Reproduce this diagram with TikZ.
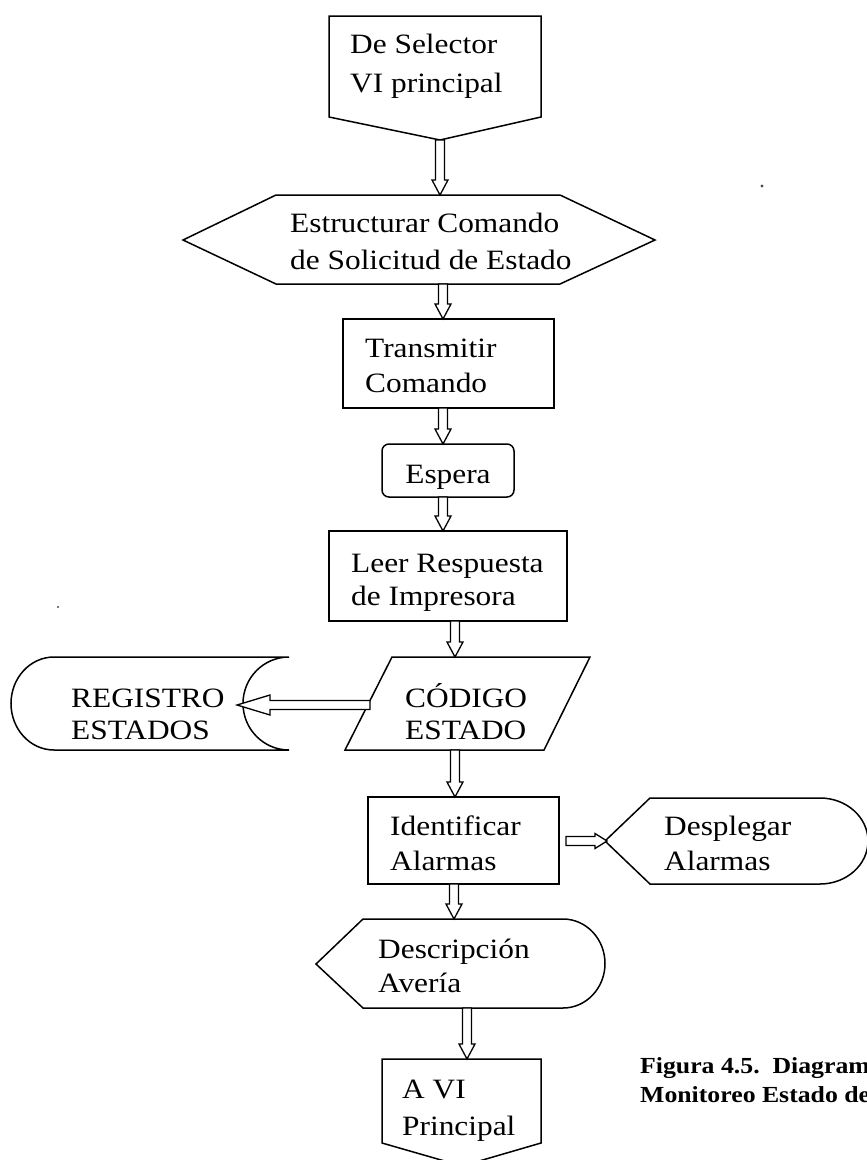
\documentclass[tikz,border=0pt]{standalone}
\usepackage{fontspec}
\setmainfont[FakeStretch=1.12]{Liberation Serif}
\usetikzlibrary{calc}

\tikzset{
  shapeline/.style={draw=black, line width=1.5pt, line join=miter},
  box/.style={shapeline, rectangle, inner sep=0pt},
  lbl/.style={anchor=base west, inner sep=0pt, font=\fontsize{28}{34}\selectfont},
  clbl/.style={anchor=base, inner sep=0pt, font=\fontsize{28}{34}\selectfont},
  captext/.style={anchor=base west, inner sep=0pt, font=\bfseries\fontsize{23}{28}\selectfont},
  conn/.style={draw=black, line width=1.3pt, fill=white, line join=miter},
}

% Outlined block arrow from tail #1 to tip #2:
% #3 half shaft width, #4 half head width, #5 head length
\newcommand\hollowarrow[5]{%
  \coordinate (ha-base) at ($(#2)!#5!(#1)$);
  \draw[conn] ($(#1)!#3!90:(#2)$) -- ($(ha-base)!#3!-90:(#1)$)
    -- ($(ha-base)!#4!-90:(#1)$) -- (#2) -- ($(ha-base)!#4!90:(#1)$)
    -- ($(ha-base)!#3!90:(#1)$) -- ($(#1)!#3!-90:(#2)$) -- cycle;}

\begin{document}
% y axis points down the page, so angles run clockwise on the page
\begin{tikzpicture}[x=1pt,y=-1pt]
\useasboundingbox (0,0) rectangle (867,1160);
\fill[white] (0,0) rectangle (867,1160);

% --- off-page entry
\draw[shapeline] (329,16) -- (541,16) -- (541,117) -- (440,140) -- (329,117) -- cycle;
\node[lbl] (sel1) at (350,53) {De Selector};
\node[lbl] (sel2) at (350,92) {VI principal};
\coordinate (sel-out) at (440,140);

% --- preparation hexagon
\draw[shapeline] (183,240) -- (276,195) -- (560,195) -- (655,240) -- (560,284) -- (276,284) -- cycle;
\node[lbl] (est1) at (290,232) {Estructurar Comando};
\node[lbl] (est2) at (290,269) {de Solicitud de Estado};
\coordinate (est-in) at (440,195);
\coordinate (est-out) at (443,284);

% --- transmit
\node[box, minimum width=211pt, minimum height=89pt] (tx) at (448.5,363.5) {};
\node[lbl] (tx1) at (365,357) {Transmitir};
\node[lbl] (tx2) at (365,392) {Comando};
\coordinate (tx-in) at (443,319);
\coordinate (tx-out) at (443,408);

% --- wait
\node[box, rounded corners=7pt, minimum width=132pt, minimum height=53pt] (wt) at (448,470.5) {};
\node[clbl] (wt1) at (448,483) {Espera};
\coordinate (wt-in) at (443,444);
\coordinate (wt-out) at (443,497);

% --- read reply
\node[box, minimum width=238pt, minimum height=90pt] (rd) at (448,576) {};
\node[lbl] (rd1) at (351,572) {Leer Respuesta};
\node[lbl] (rd2) at (351,605) {de Impresora};
\coordinate (rd-in) at (443,531);
\coordinate (rd-out) at (455,621);

% --- status code (data)
\draw[shapeline] (392,657) -- (590,657) -- (544,750) -- (345,750) -- cycle;
\node[lbl] (cd1) at (405,707) {CÓDIGO};
\node[lbl] (cd2) at (405,739) {ESTADO};
\coordinate (cd-in) at (455,657);
\coordinate (cd-left) at (370,705);
\coordinate (cd-out) at (455,750);

% --- stored data
\draw[shapeline] (289,657) -- (54,657) arc[start angle=270, end angle=90, x radius=43, y radius=46.5]
  -- (289,750) arc[start angle=90, end angle=270, x radius=46, y radius=46.5];
\node[lbl] (rg1) at (71,707) {REGISTRO};
\node[lbl] (rg2) at (71,739) {ESTADOS};
\coordinate (rg-in) at (237,705);

% --- identify alarms
\node[box, minimum width=191pt, minimum height=87pt] (id) at (463.5,840.5) {};
\node[lbl] (id1) at (390,835) {Identificar};
\node[lbl] (id2) at (390,870) {Alarmas};
\coordinate (id-in) at (455,797);
\coordinate (id-right) at (566,841);
\coordinate (id-out) at (454,884);

% --- display alarms
\draw[shapeline] (605,841) -- (650,798) -- (820,798) arc[start angle=-90, end angle=90, x radius=48, y radius=43]
  -- (650,884) -- cycle;
\node[lbl] (dp1) at (664,835) {Desplegar};
\node[lbl] (dp2) at (664,870) {Alarmas};
\coordinate (dp-in) at (607,841);

% --- display fault description
\draw[shapeline] (316,964) -- (363,919) -- (563,919) arc[start angle=-90, end angle=90, x radius=42, y radius=44.5]
  -- (363,1008) -- cycle;
\node[lbl] (ds1) at (378,958) {Descripción};
\node[lbl] (ds2) at (378,992) {Avería};
\coordinate (ds-in) at (454,919);
\coordinate (ds-out) at (467,1008);

% --- off-page exit
\draw[shapeline] (382,1059) -- (541,1059) -- (541,1143) -- (462,1166) -- (382,1143) -- cycle;
\node[lbl] (ex1) at (402,1098) {A VI};
\node[lbl] (ex2) at (402,1135) {Principal};
\coordinate (ex-in) at (467,1059);

% --- connectors
\hollowarrow{sel-out}{est-in}{4.5pt}{8pt}{15pt}
\hollowarrow{est-out}{tx-in}{4.5pt}{8pt}{15pt}
\hollowarrow{tx-out}{wt-in}{4.5pt}{8pt}{15pt}
\hollowarrow{wt-out}{rd-in}{4.5pt}{8pt}{15pt}
\hollowarrow{rd-out}{cd-in}{4.5pt}{8pt}{15pt}
\hollowarrow{cd-left}{rg-in}{4.5pt}{10pt}{33pt}
\hollowarrow{cd-out}{id-in}{4.5pt}{8pt}{15pt}
\hollowarrow{id-right}{dp-in}{4.5pt}{7.5pt}{12pt}
\hollowarrow{id-out}{ds-in}{4.5pt}{8pt}{15pt}
\hollowarrow{ds-out}{ex-in}{4.5pt}{8pt}{15pt}

% --- caption, running off the right edge
\node[captext] (cap1) at (640,1073) {Figura 4.5.\ \ Diagram};
\node[captext] (cap2) at (640,1102) {Monitoreo Estado de};

% --- specks
\fill[black!70] (762,186) circle[radius=1.6];
\fill[black!70] (58,607) circle[radius=1.2];
\end{tikzpicture}
\end{document}
